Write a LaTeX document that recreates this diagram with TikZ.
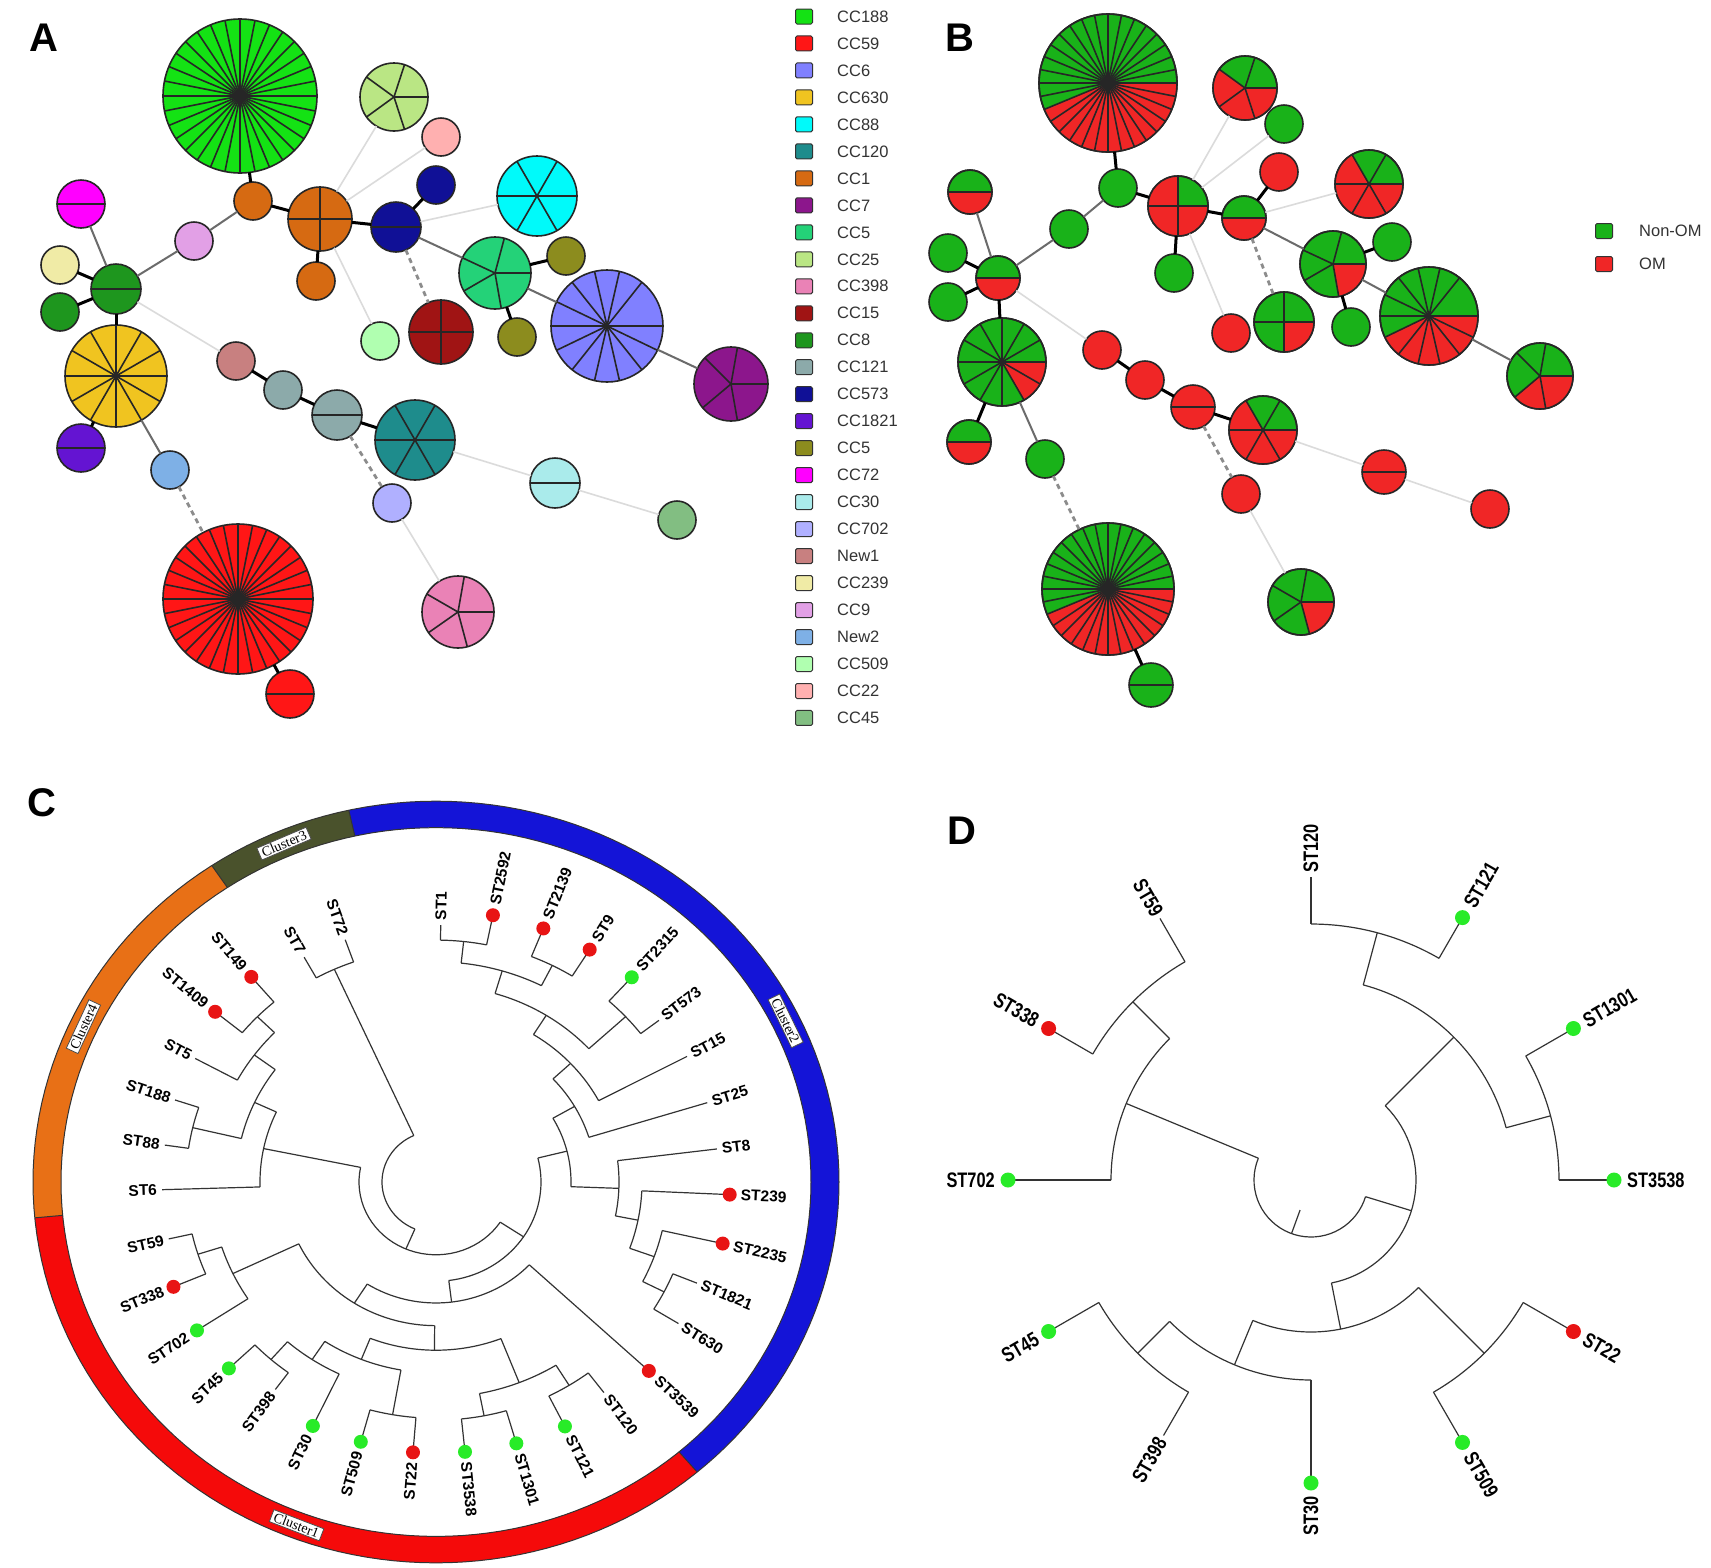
\documentclass[tikz,border=0pt]{standalone}
\usepackage{fontspec}
\setmainfont{Liberation Sans}
\newfontfamily\clusterfont{Liberation Serif}
\newfontfamily\narrowfont[FakeStretch=0.78]{Liberation Sans}
\usetikzlibrary{positioning}

% clonal complex colours
\definecolor{c188}{RGB}{20,226,20}
\definecolor{c59}{RGB}{255,22,22}
\definecolor{c6}{RGB}{128,128,255}
\definecolor{c630}{RGB}{240,196,32}
\definecolor{c88}{RGB}{0,250,250}
\definecolor{c120}{RGB}{30,140,140}
\definecolor{c1}{RGB}{214,106,18}
\definecolor{c7}{RGB}{140,22,140}
\definecolor{c5}{RGB}{36,210,120}
\definecolor{c25}{RGB}{186,230,132}
\definecolor{c398}{RGB}{234,130,182}
\definecolor{c15}{RGB}{160,20,20}
\definecolor{c8}{RGB}{30,150,30}
\definecolor{c121}{RGB}{140,170,170}
\definecolor{c573}{RGB}{16,16,150}
\definecolor{c1821}{RGB}{100,20,210}
\definecolor{c5b}{RGB}{140,140,30}
\definecolor{c72}{RGB}{255,0,255}
\definecolor{c30}{RGB}{170,235,235}
\definecolor{c702}{RGB}{176,176,255}
\definecolor{new1}{RGB}{200,128,128}
\definecolor{c239}{RGB}{240,235,166}
\definecolor{c9}{RGB}{226,160,230}
\definecolor{new2}{RGB}{126,176,230}
\definecolor{c509}{RGB}{176,255,176}
\definecolor{c22}{RGB}{255,176,176}
\definecolor{c45}{RGB}{130,190,130}
% OM / non-OM
\definecolor{omgreen}{RGB}{25,178,25}
\definecolor{omred}{RGB}{240,38,38}
\definecolor{dotred}{RGB}{232,20,20}
\definecolor{dotgreen}{RGB}{40,235,40}
% cluster ring
\definecolor{ringred}{RGB}{245,10,10}
\definecolor{ringblue}{RGB}{20,20,215}
\definecolor{ringolive}{RGB}{74,82,44}
\definecolor{ringorange}{RGB}{232,112,22}

\tikzset{
  pnode/.style={circle, draw=black!85, line width=1.6pt, inner sep=0pt, outer sep=0pt},
  spoke/.style={black!85, line width=1.6pt},
  rim/.style={black!85, line width=1.6pt},
  tie/.style={black, line width=3pt},
  greytie/.style={black!58, line width=2pt},
  paletie/.style={black!14, line width=1.6pt},
  dashtie/.style={black!45, line width=2.8pt, dash pattern=on 5pt off 4pt},
  legbox/.style={draw=black!80, line width=1pt, rounded corners=1.5pt, minimum width=17pt, minimum height=15pt, inner sep=0pt},
  legtxt/.style={font=\fontsize{16.5}{18}\selectfont, text=black!80, inner sep=0pt},
  letter/.style={font=\fontsize{40}{44}\selectfont\bfseries},
  twig/.style={black!80, line width=1.2pt},
  ringline/.style={black!80, line width=1pt},
  cdot/.style={circle, inner sep=0pt, minimum size=14pt},
  clab/.style={font=\fontsize{15.5}{17}\selectfont\bfseries, inner sep=0pt},
  clbox/.style={draw=black!70, fill=white, line width=0.8pt, inner xsep=3pt, inner ysep=1.5pt, font=\clusterfont\fontsize{14}{15}\selectfont},
  ddot/.style={circle, inner sep=0pt, minimum size=15pt},
  dlab/.style={font=\narrowfont\fontsize{21}{23}\selectfont\bfseries, inner sep=0pt},
}

\newcommand\spokes[3]{\foreach \sa in {#3}{\draw[spoke] (#1.center) -- ++(\sa:#2);}}
\newcommand\redpart[4]{%
  \begin{scope}[shift={(#1.center)}]
    \fill[omred] (0,0) -- plot[domain=#3:#4, samples=40] (\x:#2) -- cycle;
    \draw[rim] (0,0) circle[radius=#2];
  \end{scope}}
\newcommand\barc[3]{\draw[twig] plot[domain=#1:#2, samples=36] (\x:#3);}
\newcommand\brad[3]{\draw[twig] (#1:#2) -- (#1:#3);}

\begin{document}
\begin{tikzpicture}[x=1pt, y=-1pt]
\useasboundingbox (0,0) rectangle (1711,1567);
\fill[white] (0,0) rectangle (1711,1567);

\node[letter] (labA) at (44,38) {A};
\node[letter] (labB) at (960,38) {B};
\node[letter] (labC) at (42,803) {C};
\node[letter] (labD) at (962,831) {D};

% ---- A: clonal complexes
\foreach \nm/\px/\py/\pr/\pc in {188/240/96/77/c188, 25/394/97/34/c25, 22/441/137/19/c22,
  1s/253/201/19/c1, 1q/320/219/32/c1, 1b/316/281/19/c1, 573/396/227/25/c573,
  573s/436/185/19/c573, 88/537/196/40/c88, 5/495/273/36/c5, 5b1/566/256/19/c5b,
  5b2/517/337/19/c5b, 6/607/326/56/c6, 7/731/384/37/c7, 15/441/332/32/c15,
  509/380/341/19/c509, 9/194/241/19/c9, 72/81/204/24/c72, 239/60/265/19/c239,
  8s/60/312/19/c8, 8/116/289/25/c8, 630/116/376/51/c630, 1821/81/448/24/c1821,
  new2/170/470/19/new2, 59/238/599/75/c59, 59s/290/694/24/c59, new1/236/361/19/new1,
  121s/283/390/19/c121, 121/337/415/25/c121, 120/415/440/40/c120, 702/392/503/19/c702,
  398/458/612/36/c398, 30/555/483/25/c30, 45/677/520/19/c45}
  \node[pnode, fill=\pc, minimum size=2*\pr] (A\nm) at (\px,\py) {};

\spokes{A188}{77}{0,11.25,...,348.75}
\spokes{A25}{34}{0,72,144,216,288}
\spokes{A1q}{32}{0,90,180,270}
\spokes{A573}{25}{0,180}
\spokes{A88}{40}{0,60,...,300}
\spokes{A5}{36}{0,80,150,205,285}
\spokes{A6}{56}{0,25.714,...,334}
\spokes{A7}{37}{0,80,140,225,280}
\spokes{A15}{32}{0,90,180,270}
\spokes{A72}{24}{0,180}
\spokes{A8}{25}{0,180}
\spokes{A630}{51}{0,30,...,330}
\spokes{A1821}{24}{0,180}
\spokes{A59}{75}{0,11.25,...,348.75}
\spokes{A59s}{24}{0,180}
\spokes{A121}{25}{0,180}
\spokes{A120}{40}{0,60,...,300}
\spokes{A398}{36}{0,75,145,210,280}
\spokes{A30}{25}{0,180}

% legend A
\foreach \txt/\col [count=\i from 0] in {CC188/c188, CC59/c59, CC6/c6, CC630/c630, CC88/c88,
  CC120/c120, CC1/c1, CC7/c7, CC5/c5, CC25/c25, CC398/c398, CC15/c15, CC8/c8, CC121/c121,
  CC573/c573, CC1821/c1821, CC5/c5b, CC72/c72, CC30/c30, CC702/c702, New1/new1,
  CC239/c239, CC9/c9, New2/new2, CC509/c509, CC22/c22, CC45/c45}{
  \node[legbox, fill=\col] (lg\i) at (804,16.5+26.98*\i) {};
  \node[legtxt, right=24pt of lg\i] (lt\i) {\txt};
}

% ---- B: OM / non-OM
\foreach \nm/\px/\py/\pr/\pc in {188/1108/83/69/omgreen, 25/1245/88/32/omgreen, 22/1284/124/19/omgreen,
  573s/1279/172/19/omred, 88/1369/184/34/omgreen, 1s/1118/188/19/omgreen, 1q/1178/206/30/omgreen,
  573/1244/218/22/omgreen, 1b/1174/273/19/omgreen, 9/1069/229/19/omgreen, 72/970/192/22/omgreen,
  239/948/253/19/omgreen, 8s/948/302/19/omgreen, 8/998/278/22/omgreen, 630/1002/362/44/omgreen,
  1821/969/442/22/omgreen, new2/1045/459/19/omgreen, 59/1108/589/66/omgreen, 59s/1151/685/22/omgreen,
  new1/1102/350/19/omred, 121s/1145/380/19/omred, 121/1193/407/22/omred, 120/1263/430/34/omgreen,
  702/1241/494/19/omred, 398/1301/602/33/omgreen, 30/1384/472/22/omred, 45/1490/509/19/omred,
  509/1231/333/19/omred, 15/1284/322/30/omgreen, 5/1333/264/33/omgreen, 5b1/1392/242/19/omgreen,
  5b2/1351/327/19/omgreen, 6/1429/316/49/omgreen, 7/1540/376/33/omgreen}
  \node[pnode, fill=\pc, minimum size=2*\pr] (B\nm) at (\px,\py) {};

\redpart{B188}{69}{0}{157.5} \spokes{B188}{69}{0,11.25,...,348.75}
\redpart{B25}{32}{0}{216} \spokes{B25}{32}{0,72,144,216,288}
\redpart{B88}{34}{0}{240} \spokes{B88}{34}{0,60,...,300}
\redpart{B1q}{30}{0}{270} \spokes{B1q}{30}{0,90,180,270}
\redpart{B573}{22}{0}{180} \spokes{B573}{22}{0,180}
\redpart{B72}{22}{0}{180} \spokes{B72}{22}{0,180}
\redpart{B8}{22}{0}{180} \spokes{B8}{22}{0,180}
\redpart{B1821}{22}{0}{180} \spokes{B1821}{22}{0,180}
\redpart{B630}{44}{0}{60} \spokes{B630}{44}{0,30,...,330}
\redpart{B59}{66}{0}{157.5} \spokes{B59}{66}{0,11.25,...,348.75}
\spokes{B59s}{22}{0,180}
\spokes{B121}{22}{0,180}
\spokes{B30}{22}{0,180}
\redpart{B120}{34}{0}{240} \spokes{B120}{34}{0,60,...,300}
\redpart{B398}{33}{0}{75} \spokes{B398}{33}{0,75,145,210,280}
\redpart{B15}{30}{0}{90} \spokes{B15}{30}{0,90,180,270}
\redpart{B5}{33}{0}{80} \spokes{B5}{33}{0,80,150,205,285}
\redpart{B6}{49}{0}{154.3} \spokes{B6}{49}{0,25.714,...,334}
\redpart{B7}{33}{0}{140} \spokes{B7}{33}{0,80,140,225,280}

% links, same tree in A and B
\foreach \p in {A,B}{
  \foreach \u/\v in {188/1s, 1s/1q, 1q/1b, 1q/573, 573/573s, 5/5b1, 5/5b2, 8/239, 8/8s,
    8/630, 630/1821, 59/59s, new1/121s, 121s/121, 121/120}
    \draw[tie] (\p\u) -- (\p\v);
  \foreach \u/\v in {1s/9, 9/8, 8/72, 573/5, 5/6, 6/7, 630/new2}
    \draw[greytie] (\p\u) -- (\p\v);
  \foreach \u/\v in {1q/25, 1q/22, 1q/509, 573/88, 8/new1, 702/398, 120/30, 30/45}
    \draw[paletie] (\p\u) -- (\p\v);
  \foreach \u/\v in {573/15, new2/59, 121/702}
    \draw[dashtie] (\p\u) -- (\p\v);
}

% legend B
\node[legbox, fill=omgreen] (lgnon) at (1604,231) {};
\node[legtxt, right=26pt of lgnon] (ltnon) {Non-OM};
\node[legbox, fill=omred] (lgom) at (1604,264) {};
\node[legtxt, right=26pt of lgom] (ltom) {OM};

% ---- C: circular tree with clusters
\begin{scope}[shift={(436,1182)}, yscale=-0.945]
  \fill[ringred] plot[domain=185.4:310.4, samples=60] (\x:403) -- plot[domain=310.4:185.4, samples=60] (\x:375) -- cycle;
  \fill[ringblue] plot[domain=310.4:462.5, samples=80] (\x:403) -- plot[domain=462.5:310.4, samples=80] (\x:375) -- cycle;
  \fill[ringolive] plot[domain=102.5:123.8, samples=12] (\x:403) -- plot[domain=123.8:102.5, samples=12] (\x:375) -- cycle;
  \fill[ringorange] plot[domain=123.8:185.4, samples=30] (\x:403) -- plot[domain=185.4:123.8, samples=30] (\x:375) -- cycle;
  \draw[ringline] plot[domain=0:360, samples=181] (\x:403) -- cycle;
  \draw[ringline] plot[domain=0:360, samples=181] (\x:375) -- cycle;
  \foreach \b in {185.4,310.4,102.5,123.8} \draw[ringline] (\b:375) -- (\b:403);
  \node[clbox, rotate=-21] (clu1) at (249:389) {Cluster1};
  \node[clbox, rotate=-64] (clu2) at (26:389) {Cluster2};
  \node[clbox, rotate=23] (clu3) at (113:389) {Cluster3};
  \node[clbox, rotate=65] (clu4) at (155:389) {Cluster4};

  % root and cluster3
  \barc{114.3}{247}{54}
  \brad{114.3}{54}{247} \barc{109.5}{119}{247} \brad{109.5}{247}{272} \brad{119}{247}{272}
  \brad{247}{54}{77} \barc{168.4}{326.5}{77}
  % cluster4
  \brad{168.4}{77}{176} \barc{155.1}{181.7}{176} \brad{181.7}{176}{274}
  \brad{155.1}{176}{200} \barc{143.5}{166.7}{200}
  \brad{143.5}{200}{226} \barc{135.6}{151.5}{226} \brad{151.5}{226}{274}
  \brad{135.6}{226}{250} \barc{130.4}{140.8}{250} \brad{130.4}{250}{285} \brad{140.8}{250}{285}
  \brad{166.7}{200}{250} \barc{161.6}{171.8}{250} \brad{161.6}{250}{275} \brad{171.8}{250}{274}
  % cluster1
  \brad{326.5}{77}{105} \barc{277}{374}{105}
  \brad{277}{105}{128} \barc{237.5}{316.8}{128} \brad{316.8}{128}{292}
  \brad{237.5}{128}{152} \barc{205.5}{269.5}{152}
  \brad{205.5}{152}{225} \barc{197.8}{213.3}{225} \brad{213.3}{225}{286}
  \brad{197.8}{225}{250} \barc{192.7}{202.9}{250} \brad{192.7}{250}{274} \brad{202.9}{250}{285}
  \brad{269.5}{152}{178} \barc{248.3}{291.4}{178}
  \brad{248.3}{178}{202} \barc{236.6}{260}{202}
  \brad{236.6}{202}{225} \barc{228.7}{244.5}{225} \brad{244.5}{225}{286}
  \brad{228.7}{225}{250} \barc{223.6}{233.8}{250} \brad{223.6}{250}{286} \brad{233.8}{250}{272}
  \brad{260}{202}{250} \barc{254.7}{265.4}{250} \brad{254.7}{250}{285} \brad{265.4}{250}{287}
  \brad{291.4}{178}{228} \barc{281}{301.75}{228}
  \brad{281}{228}{252} \barc{275.8}{286.2}{252} \brad{275.8}{252}{287} \brad{286.2}{252}{288}
  \brad{301.75}{228}{253} \barc{296.5}{307}{253} \brad{296.5}{253}{289} \brad{307}{253}{279}
  % cluster2
  \brad{14}{105}{135} \barc{-2.1}{30}{135}
  \brad{30}{135}{160} \barc{17.2}{43}{160} \brad{17.2}{160}{284}
  \brad{43}{160}{184} \barc{27.9}{58}{184} \brad{27.9}{184}{284}
  \brad{58}{184}{208} \barc{42.7}{73.5}{208}
  \brad{42.7}{208}{258} \barc{37.5}{47.9}{258} \brad{37.5}{258}{281} \brad{47.9}{258}{292}
  \brad{73.5}{208}{233} \barc{63.1}{83.8}{233}
  \brad{83.8}{233}{256} \barc{78.6}{89}{256} \brad{89}{256}{272} \brad{78.6}{256}{288}
  \brad{63.1}{233}{257} \barc{58}{68.2}{257} \brad{68.2}{257}{289} \brad{58}{257}{290}
  \brad{-2.1}{135}{183} \barc{-11.3}{7.1}{183} \brad{7.1}{183}{283}
  \brad{-11.3}{183}{206} \barc{-19.9}{-2.6}{206} \brad{-2.6}{206}{294}
  \brad{-19.9}{206}{232} \barc{-27}{-12.8}{232} \brad{-12.8}{232}{294}
  \brad{-27}{232}{256} \barc{-31.7}{-22.3}{256} \brad{-22.3}{256}{282} \brad{-31.7}{256}{285}

  % leaves, right half
  \foreach \ang/\rt/\col/\txt/\lr in {89/272/none/ST1/277, 78.6/288/dotred/ST2592/299,
    68.2/289/dotred/ST2139/300, 58/290/dotred/ST9/301, 47.9/292/dotgreen/ST2315/303,
    37.5/281/none/ST573/286, 27.9/284/none/ST15/289, 17.2/284/none/ST25/289,
    7.1/283/none/ST8/288, -2.6/294/dotred/ST239/305, -12.8/294/dotred/ST2235/305,
    -22.3/282/none/ST1821/287, -31.7/285/none/ST630/290, -43.2/292/dotred/ST3539/303,
    -53/279/none/ST120/284, -63.5/289/dotgreen/ST121/300, -73.8/288/dotgreen/ST1301/299,
    -84.2/287/dotgreen/ST3538/298}{
    \node[cdot, fill=\col] (cd\txt) at (\ang:\rt) {};
    \node[clab, rotate=\ang, anchor=west] (ct\txt) at (\ang:\lr) {\txt};
  }
  % leaves, left half
  \foreach \ang/\rt/\col/\txt/\lr in {265.4/287/dotred/ST22/298, 254.7/285/dotgreen/ST509/296,
    244.5/286/dotgreen/ST30/297, 233.8/272/none/ST398/277, 223.6/286/dotgreen/ST45/297,
    213.3/286/dotgreen/ST702/297, 202.9/285/dotred/ST338/296, 192.7/274/none/ST59/279,
    181.7/274/none/ST6/279, 171.8/274/none/ST88/279, 161.6/275/none/ST188/280,
    151.5/274/none/ST5/279, 140.8/285/dotred/ST1409/296, 130.4/285/dotred/ST149/296,
    119/272/none/ST7/277, 109.5/272/none/ST72/277}{
    \node[cdot, fill=\col] (cd\txt) at (\ang:\rt) {};
    \node[clab, rotate=\ang+180, anchor=east] (ct\txt) at (\ang:\lr) {\txt};
  }
\end{scope}

% ---- D: circular tree of OM isolates
\begin{scope}[shift={(1311,1180)}, yscale=-1]
  \barc{157.5}{343}{57} \brad{250}{32}{57}
  \brad{157.5}{57}{200} \barc{135}{180}{200} \brad{180}{200}{303}
  \brad{135}{200}{252} \barc{120}{150}{252} \brad{120}{252}{302} \brad{150}{252}{303}
  \brad{343}{57}{105} \barc{281.25}{405}{105}
  \brad{45}{105}{202} \barc{15}{75}{202}
  \brad{15}{202}{248} \barc{0}{30}{248} \brad{0}{248}{303} \brad{30}{248}{303}
  \brad{75}{202}{256} \barc{60}{90}{256} \brad{60}{256}{303} \brad{90}{256}{303}
  \brad{281.25}{105}{152} \barc{247.5}{315}{152}
  \brad{315}{152}{245} \barc{300}{330}{245} \brad{300}{245}{303} \brad{330}{245}{303}
  \brad{247.5}{152}{200} \barc{225}{270}{200} \brad{270}{200}{303}
  \brad{225}{200}{245} \barc{210}{240}{245} \brad{210}{245}{303} \brad{240}{245}{295}

  \foreach \ang/\rt/\col/\txt/\lr in {0/303/dotgreen/ST3538/316, 30/303/dotgreen/ST1301/316,
    60/303/dotgreen/ST121/316, 90/303/none/ST120/307, 300/303/dotgreen/ST509/316,
    330/303/dotred/ST22/316}{
    \node[ddot, fill=\col] (dd\txt) at (\ang:\rt) {};
    \node[dlab, rotate=\ang, anchor=west] (dt\txt) at (\ang:\lr) {\txt};
  }
  \foreach \ang/\rt/\col/\txt/\lr in {120/302/none/ST59/306, 150/303/dotred/ST338/316,
    180/303/dotgreen/ST702/316, 210/303/dotgreen/ST45/316, 240/295/none/ST398/299,
    270/303/dotgreen/ST30/316}{
    \node[ddot, fill=\col] (dd\txt) at (\ang:\rt) {};
    \node[dlab, rotate=\ang+180, anchor=east] (dt\txt) at (\ang:\lr) {\txt};
  }
\end{scope}
\end{tikzpicture}
\end{document}
